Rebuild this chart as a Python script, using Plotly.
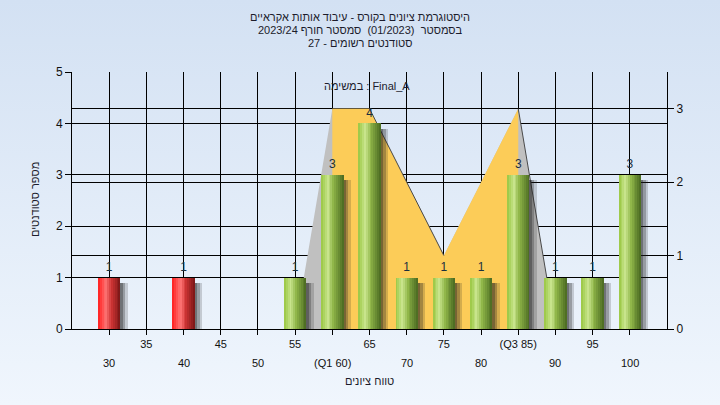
import base64
import plotly.graph_objects as go

# ---------------- data ----------------
bins = [30, 35, 40, 45, 50, 55, 60, 65, 70, 75, 80, 85, 90, 95, 100]
counts = [1, 0, 1, 0, 0, 1, 3, 4, 1, 1, 1, 3, 1, 1, 3]
pass_limit = 55  # bars below this are drawn red

area_x = [55, 60, 65, 70, 75, 80, 85, 90]
area_y = [0, 3, 3, 2, 1, 2, 3, 0]
q1 = 60
q3 = 85

top_row_ticks = [35, 45, 55, 65, 75, 85, 95]
top_row_text = ["35", "45", "55", "65", "75", "(Q3 85)", "95"]
bottom_row_ticks = [30, 40, 50, 60, 70, 80, 90, 100]
bottom_row_text = ["30", "40", "50", "(Q1 60)", "70", "80", "90", "100"]

left_ticks = [0, 1, 2, 3, 4, 5]
right_ticks = [0, 1, 2, 3]

title_lines = [
    "היסטוגרמת ציונים בקורס - עיבוד אותות אקראיים",
    "בסמסטר  (01/2023)  סמסטר חורף 2023/24",
    "סטודנטים רשומים - 27",
]
series_label = "במשימה : Final_A"
x_title = "טווח ציונים"
y_title = "מספר סטודנטים"

# ---------------- styling helpers ----------------
FONT = "Liberation Sans, DejaVu Sans, Arial, sans-serif"
TXT = "#1c1c2c"
BAR_W = 3.0
N_SLICES = 12

green_stops = [(0.0, (152, 198, 64)), (0.3, (201, 229, 142)), (0.55, (143, 181, 72)), (1.0, (72, 104, 32))]
red_stops = [(0.0, (255, 28, 28)), (0.35, (255, 118, 118)), (0.6, (206, 52, 52)), (1.0, (120, 22, 22))]


def interp(stops, t):
    for (t0, c0), (t1, c1) in zip(stops[:-1], stops[1:]):
        if t0 <= t <= t1:
            f = (t - t0) / (t1 - t0)
            c = [round(a + (b - a) * f) for a, b in zip(c0, c1)]
            return "rgb(%d,%d,%d)" % tuple(c)
    return "rgb(%d,%d,%d)" % stops[-1][1]


bx = [b for b, c in zip(bins, counts) if c > 0]
by = [c for c in counts if c > 0]

fig = go.Figure()

# area (right axis, main subplot)
fig.add_trace(go.Scatter(x=area_x, y=area_y, mode="lines", line=dict(width=0, color="#c0c0c0"),
                         fill="tozeroy", fillcolor="#c0c0c0", yaxis="y", hoverinfo="skip"))
yx = [x for x in area_x if q1 <= x <= q3]
yy = [y for x, y in zip(area_x, area_y) if q1 <= x <= q3]
fig.add_trace(go.Scatter(x=yx, y=yy, mode="lines", line=dict(width=0, color="#fccc58"),
                         fill="tozeroy", fillcolor="#fccc58", yaxis="y", hoverinfo="skip"))
# dark edge on descending segments
ex, ey = [], []
for i in range(len(area_x) - 1):
    if area_y[i + 1] < area_y[i]:
        if ex and ex[-1] == area_x[i]:
            ex.append(area_x[i + 1]); ey.append(area_y[i + 1])
        else:
            if ex:
                ex.append(None); ey.append(None)
            ex += [area_x[i], area_x[i + 1]]; ey += [area_y[i], area_y[i + 1]]
fig.add_trace(go.Scatter(x=ex, y=ey, mode="lines", line=dict(width=1, color="#4a4a4a"),
                         yaxis="y", hoverinfo="skip"))

# bar shadows (left axis)
for k, a in enumerate([0.6, 0.4, 0.18]):
    fig.add_trace(go.Bar(x=bx, y=[v - 0.1 for v in by], width=0.33, offset=BAR_W / 2 + k * 0.33,
                         marker=dict(color="rgba(30,30,30,%.2f)" % a, line=dict(width=0)),
                         yaxis="y2", hoverinfo="skip"))

# cylindrical bars made of vertical slices
for i in range(N_SLICES):
    t = (i + 0.5) / N_SLICES
    cols = [interp(red_stops if x < pass_limit else green_stops, t) for x in bx]
    fig.add_trace(go.Bar(x=bx, y=by, width=BAR_W / N_SLICES + 0.01,
                         offset=-BAR_W / 2 + i * BAR_W / N_SLICES,
                         marker=dict(color=cols, line=dict(width=0)), yaxis="y2", hoverinfo="skip"))

# value labels
fig.add_trace(go.Scatter(x=bx, y=[v + 0.07 for v in by], text=[str(v) for v in by], mode="text",
                         textposition="top center", textfont=dict(family=FONT, size=12, color="#1a2f3f"),
                         yaxis="y2", cliponaxis=False, hoverinfo="skip"))

# ---------------- layout ----------------
L, R, T, B = 72, 53, 72, 76
W, H = 720, 405
pw, ph = W - L - R, H - T - B


def py(pix):  # pixel row -> paper y
    return ((T + ph) - pix) / ph


def px(pix):  # pixel column -> paper x
    return (pix - L) / pw


svg = ('<svg xmlns="http://www.w3.org/2000/svg" width="720" height="405" preserveAspectRatio="none">'
       '<defs><linearGradient id="g" x1="0" y1="0" x2="0" y2="1">'
       '<stop offset="0" stop-color="#d3e1f3"/><stop offset="1" stop-color="#f0f6fd"/>'
       '</linearGradient></defs><rect width="720" height="405" fill="url(#g)"/></svg>')
src = "data:image/svg+xml;base64," + base64.b64encode(svg.encode()).decode()

axis_common = dict(showline=True, linecolor="black", linewidth=1, ticks="outside", tickcolor="black",
                   showgrid=True, gridcolor="black", gridwidth=1, zeroline=False, fixedrange=True)

all_ticks = sorted(top_row_ticks + bottom_row_ticks)
tick_text = [top_row_text[top_row_ticks.index(v)] if v in top_row_ticks else "" for v in all_ticks]

annotations = []
for line, ypix in zip(title_lines, [17, 30, 43]):
    annotations.append(dict(x=px(360), y=py(ypix), xref="paper", yref="paper", text=line,
                            showarrow=False, xanchor="center", yanchor="middle",
                            font=dict(family=FONT, size=11, color=TXT)))
for v, t in zip(bottom_row_ticks, bottom_row_text):
    annotations.append(dict(x=v, y=py(362.5), xref="x", yref="paper", text=t,
                            showarrow=False, yanchor="middle", font=dict(family=FONT, size=11, color="#111")))
annotations.append(dict(x=0.5, y=py(381), xref="paper", yref="paper", text=x_title,
                        showarrow=False, yanchor="middle", font=dict(family=FONT, size=11, color=TXT)))
annotations.append(dict(x=px(35), y=py(200), xref="paper", yref="paper", text=y_title,
                        textangle=-90, showarrow=False, xanchor="center", yanchor="middle",
                        font=dict(family=FONT, size=11, color=TXT)))
annotations.append(dict(x=px(367), y=py(86), xref="paper", yref="paper",
                        text=series_label, showarrow=False, yanchor="middle",
                        font=dict(family=FONT, size=11, color=TXT)))

fig.update_layout(
    width=W, height=H,
    margin=dict(l=L, r=R, t=T, b=B, autoexpand=False),
    paper_bgcolor="#e2ebf7",
    plot_bgcolor="#b4b4b4",
    showlegend=False,
    barmode="overlay",
    bargap=0,
    xaxis=dict(range=[25, 105], tickvals=all_ticks, ticktext=tick_text, ticklen=5,
               tickfont=dict(family=FONT, size=11, color="#111"), **axis_common),
    yaxis=dict(range=[0, 3.5], tickvals=right_ticks, side="right", ticklen=6,
               tickfont=dict(family=FONT, size=12, color="#111"), **axis_common),
    yaxis2=dict(range=[0, 5], tickvals=left_ticks, side="left", overlaying="y", anchor="x", ticklen=6,
                tickfont=dict(family=FONT, size=12, color="#111"), **axis_common),
    annotations=annotations,
    images=[dict(source=src, xref="paper", yref="paper", x=-L / pw, y=1 + T / ph,
                 sizex=W / pw, sizey=H / ph, xanchor="left", yanchor="top",
                 sizing="stretch", layer="below")],
)

fig.write_html("out.html", config={"displayModeBar": False, "staticPlot": True},
               post_script="document.body.style.margin='0';document.body.style.overflow='hidden';")
